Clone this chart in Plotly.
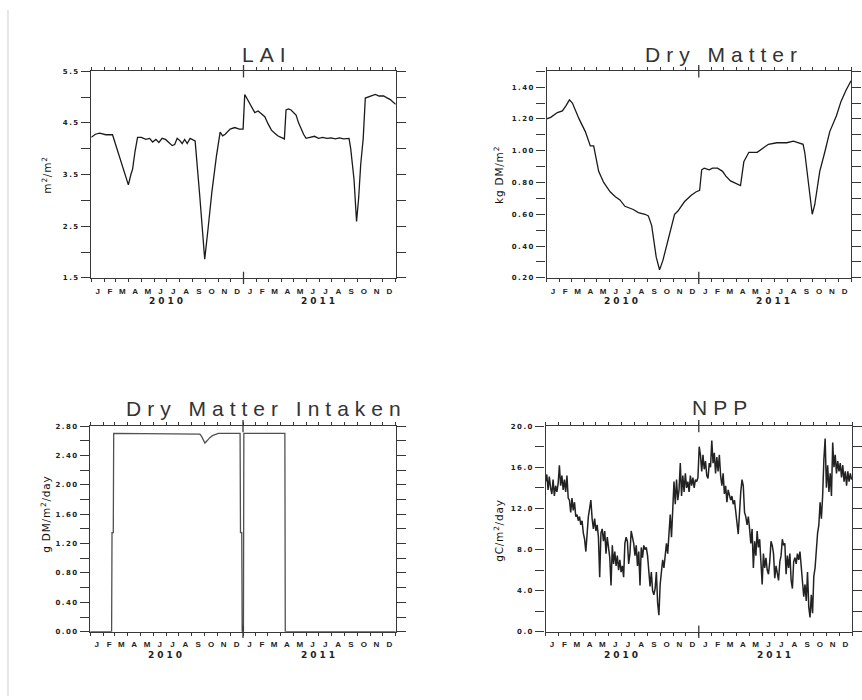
import plotly.graph_objects as go

# ---------------- data ----------------
month_letters = ["J", "F", "M", "A", "M", "J", "J", "A", "S", "O", "N", "D"] * 2
month_days = [31, 28, 31, 30, 31, 30, 31, 31, 30, 31, 30, 31] * 2
year_labels = ["2010", "2011"]

# LAI (m2/m2), day index from 2010-01-01
lai_day = [0, 10, 20, 35, 51, 60, 71, 80, 89, 95,
           99, 105, 111, 120, 131, 140, 147, 155, 162, 170,
           178, 186, 194, 200, 206, 212, 218, 224, 230, 237,
           243, 249, 260, 272, 280, 289, 300, 309, 315, 321,
           333, 344, 355, 364, 368, 376, 385, 392, 400, 408,
           416, 424, 432, 440, 447, 455, 463, 467, 473, 479,
           485, 491, 497, 503, 509, 515, 525, 535, 545, 555,
           565, 575, 585, 595, 605, 612, 618, 622, 626, 630,
           636, 641, 646, 652, 657, 663, 669, 675, 681, 690,
           701, 710, 717, 724, 730]
lai_val = [4.22, 4.28, 4.30, 4.27, 4.27, 4.05, 3.75, 3.52, 3.30, 3.50,
           3.60, 3.95, 4.22, 4.22, 4.18, 4.20, 4.13, 4.18, 4.12, 4.20,
           4.18, 4.12, 4.06, 4.08, 4.20, 4.16, 4.10, 4.18, 4.10, 4.20,
           4.18, 4.15, 3.10, 1.86, 2.45, 3.15, 3.85, 4.32, 4.25, 4.28,
           4.38, 4.41, 4.38, 4.38, 5.05, 4.93, 4.80, 4.70, 4.73, 4.68,
           4.62, 4.48, 4.36, 4.30, 4.25, 4.22, 4.19, 4.75, 4.77, 4.75,
           4.70, 4.65, 4.50, 4.38, 4.28, 4.20, 4.22, 4.24, 4.20, 4.22,
           4.20, 4.21, 4.19, 4.21, 4.19, 4.20, 4.20, 4.00, 3.70, 3.40,
           2.59, 3.04, 3.70, 4.20, 4.98, 5.00, 5.02, 5.04, 5.05, 5.02,
           5.02, 4.98, 4.95, 4.90, 4.86]

# Dry Matter (kg DM/m2)
dm_day = [0, 10, 26, 38, 46, 55, 62, 78, 93, 101,
          105, 113, 117, 125, 137, 153, 165, 176, 188, 200,
          208, 220, 236, 244, 252, 263, 271, 279, 295, 307,
          315, 331, 347, 358, 367, 372, 378, 390, 398, 410,
          422, 430, 441, 457, 465, 473, 485, 497, 505, 521,
          532, 552, 576, 592, 615, 619, 627, 637, 643, 655,
          667, 679, 695, 706, 718, 730]
dm_val = [1.20, 1.21, 1.24, 1.25, 1.28, 1.32, 1.30, 1.20, 1.12, 1.05,
          1.03, 1.03, 0.97, 0.87, 0.80, 0.74, 0.71, 0.69, 0.65, 0.64,
          0.63, 0.61, 0.60, 0.59, 0.53, 0.33, 0.25, 0.31, 0.47, 0.60,
          0.62, 0.68, 0.72, 0.74, 0.75, 0.88, 0.89, 0.88, 0.89, 0.89,
          0.87, 0.84, 0.81, 0.79, 0.78, 0.93, 0.99, 0.99, 0.99, 1.02,
          1.04, 1.05, 1.05, 1.06, 1.04, 0.99, 0.80, 0.60, 0.66, 0.87,
          0.99, 1.12, 1.22, 1.31, 1.38, 1.44]

# Dry Matter Intaken (g DM/m2/day)
dmi_day = [0, 51, 52, 55, 56, 257, 262, 266, 270, 274,
           279, 285, 292, 300, 306, 358, 359, 362, 363, 366,
           367, 465, 466, 730]
dmi_val = [0, 0, 1.35, 1.35, 2.70, 2.70, 2.69, 2.66, 2.62, 2.57,
           2.60, 2.64, 2.67, 2.69, 2.70, 2.70, 1.35, 1.35, 0, 0,
           2.70, 2.70, 0, 0]

# NPP (gC/m2/day), every 3rd day from 2010-01-01
npp_step = 3
npp_val = [
    14.6, 15.3, 13.8, 15.1, 14.0, 13.4, 14.8, 13.2, 14.2, 13.6,
    14.4, 16.2, 14.2, 15.2, 13.8, 14.8, 13.6, 15.2, 13.0, 12.8,
    11.6, 13.0, 11.8, 12.6, 11.2, 11.4, 10.8, 11.2, 10.4, 10.8,
    9.6, 9.0, 7.8, 9.8, 11.2, 12.0, 12.8, 11.0, 10.0, 11.0,
    9.8, 10.4, 9.2, 5.3, 9.6, 10.0, 8.8, 9.8, 7.6, 9.2,
    8.0, 7.2, 4.5, 8.4, 6.6, 7.8, 6.4, 7.4, 6.0, 7.0,
    5.8, 6.4, 5.3, 8.6, 9.2, 8.8, 6.6, 7.6, 9.8, 9.2,
    8.6, 7.4, 8.4, 6.4, 7.8, 4.5, 8.2, 7.2, 8.4, 8.0,
    8.2, 7.4, 6.0, 4.4, 5.8, 4.0, 3.6, 4.2, 5.8, 2.8,
    1.6, 4.6, 5.8, 7.0, 6.2, 7.8, 8.6, 7.6, 9.6, 11.4,
    9.2, 11.8, 14.6, 12.4, 14.8, 12.8, 13.8, 16.4, 13.2, 15.2,
    13.6, 15.4, 14.0, 14.6, 13.6, 15.2, 14.2, 15.0, 14.0, 14.8,
    14.6, 15.0, 18.0, 17.2, 15.6, 17.2, 15.8, 16.6, 15.2, 14.9,
    16.4, 16.0, 18.6, 16.4, 17.4, 15.4, 17.0, 15.6, 17.2, 15.2,
    14.2, 15.4, 13.4, 14.2, 12.6, 13.8, 13.2, 12.8, 13.2, 12.4,
    12.8, 11.4, 10.6, 9.5, 11.8, 13.6, 14.8, 14.2, 11.6, 11.2,
    10.4, 11.2, 10.0, 8.6, 10.0, 6.2, 8.8, 7.4, 9.8, 8.2,
    9.0, 7.0, 4.6, 7.6, 6.2, 7.2, 6.0, 5.6, 6.8, 8.8,
    8.4, 7.6, 5.2, 6.4, 5.6, 5.0, 6.8, 7.4, 9.0, 8.4,
    8.6, 5.6, 7.4, 6.2, 7.6, 5.0, 4.2, 6.8, 7.2, 6.6,
    7.6, 7.0, 7.8, 6.2, 5.2, 3.4, 4.6, 3.0, 5.8, 2.4,
    1.4, 3.6, 1.8, 5.4, 6.2, 8.0, 9.6, 10.4, 12.6, 11.0,
    13.2, 16.8, 18.8, 14.0, 16.2, 13.6, 15.4, 13.2, 18.4, 16.0,
    17.2, 15.4, 16.6, 15.6, 16.4, 15.0, 16.2, 14.6, 15.6, 14.2,
    15.6, 14.6, 15.4, 14.8]
npp_day = [i * npp_step for i in range(len(npp_val))]

# ---------------- layout helpers ----------------
W, H = 862, 700
FRAME = "#383838"


def fx(p):
    return p / W


def fy(p):
    return 1 - p / H


bounds = [0]
for m in month_days:
    bounds.append(bounds[-1] + m)
mids = [(bounds[i] + bounds[i + 1]) / 2 for i in range(len(month_days))]
year_mid = [(bounds[0] + bounds[12]) / 2, (bounds[12] + bounds[24]) / 2]


def sp(text, ls):
    return f'<span style="letter-spacing:{ls}px">{text}</span>'


panels = [
    dict(x=lai_day, y=lai_val, box=(92, 399, 68, 277), rng=(1.5, 5.5),
         major=[1.5, 2.5, 3.5, 4.5, 5.5], minor=0.5, dec=1,
         title="LAI", tpos=(269, 51),
         ytitle="m<sup>2</sup>/m<sup>2</sup>", ypos=(46, 173),
         color="#1a1a1a", lw=1.3),
    dict(x=dm_day, y=dm_val, box=(551, 858, 68, 277), rng=(0.2, 1.5),
         major=[0.2, 0.4, 0.6, 0.8, 1.0, 1.2, 1.4], minor=0.1, dec=2,
         title="Dry Matter", tpos=(730, 51),
         ytitle="kg DM/m<sup>2</sup>", ypos=(502, 173),
         color="#1a1a1a", lw=1.3),
    dict(x=dmi_day, y=dmi_val, box=(91, 399, 427, 635), rng=(0, 2.8),
         major=[0, 0.4, 0.8, 1.2, 1.6, 2.0, 2.4, 2.8], minor=0.2, dec=2,
         title="Dry Matter Intaken", tpos=(269, 409),
         ytitle="g DM/m<sup>2</sup>/day", ypos=(45, 516),
         color="#505050", lw=1.3),
    dict(x=npp_day, y=npp_val, box=(550, 859, 427, 635), rng=(0, 20),
         major=[0, 4, 8, 12, 16, 20], minor=2, dec=1,
         title="NPP", tpos=(728, 408),
         ytitle="gC/m<sup>2</sup>/day", ypos=(503, 532),
         color="#222222", lw=1.5),
]

fig = go.Figure()
layout = dict(width=W, height=H, margin=dict(l=0, r=0, t=0, b=0),
              paper_bgcolor="white", plot_bgcolor="white", showlegend=False)
annotations = []
shapes = [dict(type="line", xref="paper", yref="paper", x0=fx(8), x1=fx(8),
               y0=0, y1=fy(6), line=dict(color="#e6e6e6", width=2))]

for i, p in enumerate(panels, start=1):
    sfx = "" if i == 1 else str(i)
    l, r, t, b = p["box"]
    fig.add_trace(go.Scatter(x=p["x"], y=p["y"], mode="lines",
                             line=dict(color=p["color"], width=p["lw"]),
                             xaxis="x" + sfx, yaxis="y" + sfx,
                             hoverinfo="skip"))
    layout["xaxis" + sfx] = dict(
        domain=[fx(l), fx(r)], anchor="y" + sfx, range=[0, 730],
        showline=True, linecolor=FRAME, linewidth=1.3, mirror="allticks",
        ticks="outside", ticklen=5, tickcolor="rgba(0,0,0,0)",
        tickvals=mids, ticktext=month_letters,
        tickfont=dict(family="Liberation Sans", size=8, color="#222",
                      weight="bold"),
        showgrid=False, zeroline=False,
        minor=dict(tickvals=bounds, ticks="outside", ticklen=3,
                   tickcolor=FRAME, tickwidth=1.2, showgrid=False))
    fmt = "{:.%df}" % p["dec"]
    layout["yaxis" + sfx] = dict(
        domain=[fy(b), fy(t)], anchor="x" + sfx, range=list(p["rng"]),
        showline=True, linecolor=FRAME, linewidth=1.3, mirror="allticks",
        ticks="outside", ticklen=9, tickcolor=FRAME, tickwidth=1.2,
        tickvals=p["major"],
        ticktext=[sp(fmt.format(v), 1.5) for v in p["major"]],
        tickfont=dict(family="DejaVu Sans", size=7, color="#222",
                      weight="bold"),
        showgrid=False, zeroline=False,
        minor=dict(tick0=p["rng"][0], dtick=p["minor"], ticks="outside",
                   ticklen=9, tickcolor=FRAME, tickwidth=1.2,
                   showgrid=False))
    # longer year-boundary ticks
    for y0, y1 in ((-0.03, 0.03), (0.97, 1.03)):
        shapes.append(dict(type="line", xref="x" + sfx,
                           yref="y" + sfx + " domain",
                           x0=bounds[12], x1=bounds[12], y0=y0, y1=y1,
                           line=dict(color=FRAME, width=1.3)))
    # year labels
    for yl, ym in zip(year_labels, year_mid):
        annotations.append(dict(
            text=sp(yl, 3), x=ym, xref="x" + sfx, y=0,
            yref="y" + sfx + " domain", yanchor="middle", yshift=-23,
            showarrow=False,
            font=dict(family="DejaVu Sans", size=9, color="#222",
                      weight="bold")))
    # title
    annotations.append(dict(
        text=sp(p["title"], 6), x=fx(p["tpos"][0]), y=fy(p["tpos"][1]),
        xref="paper", yref="paper", xanchor="center", yanchor="middle",
        showarrow=False,
        font=dict(family="Liberation Sans", size=21, color="#333")))
    # y axis title
    annotations.append(dict(
        text=sp(p["ytitle"], 0.8), x=fx(p["ypos"][0]), y=fy(p["ypos"][1]),
        xref="paper", yref="paper", xanchor="center", yanchor="middle",
        textangle=-90, showarrow=False,
        font=dict(family="DejaVu Sans", size=10.5, color="#111")))

layout["annotations"] = annotations
layout["shapes"] = shapes
fig.update_layout(**layout)
fig.write_html("out.html")
